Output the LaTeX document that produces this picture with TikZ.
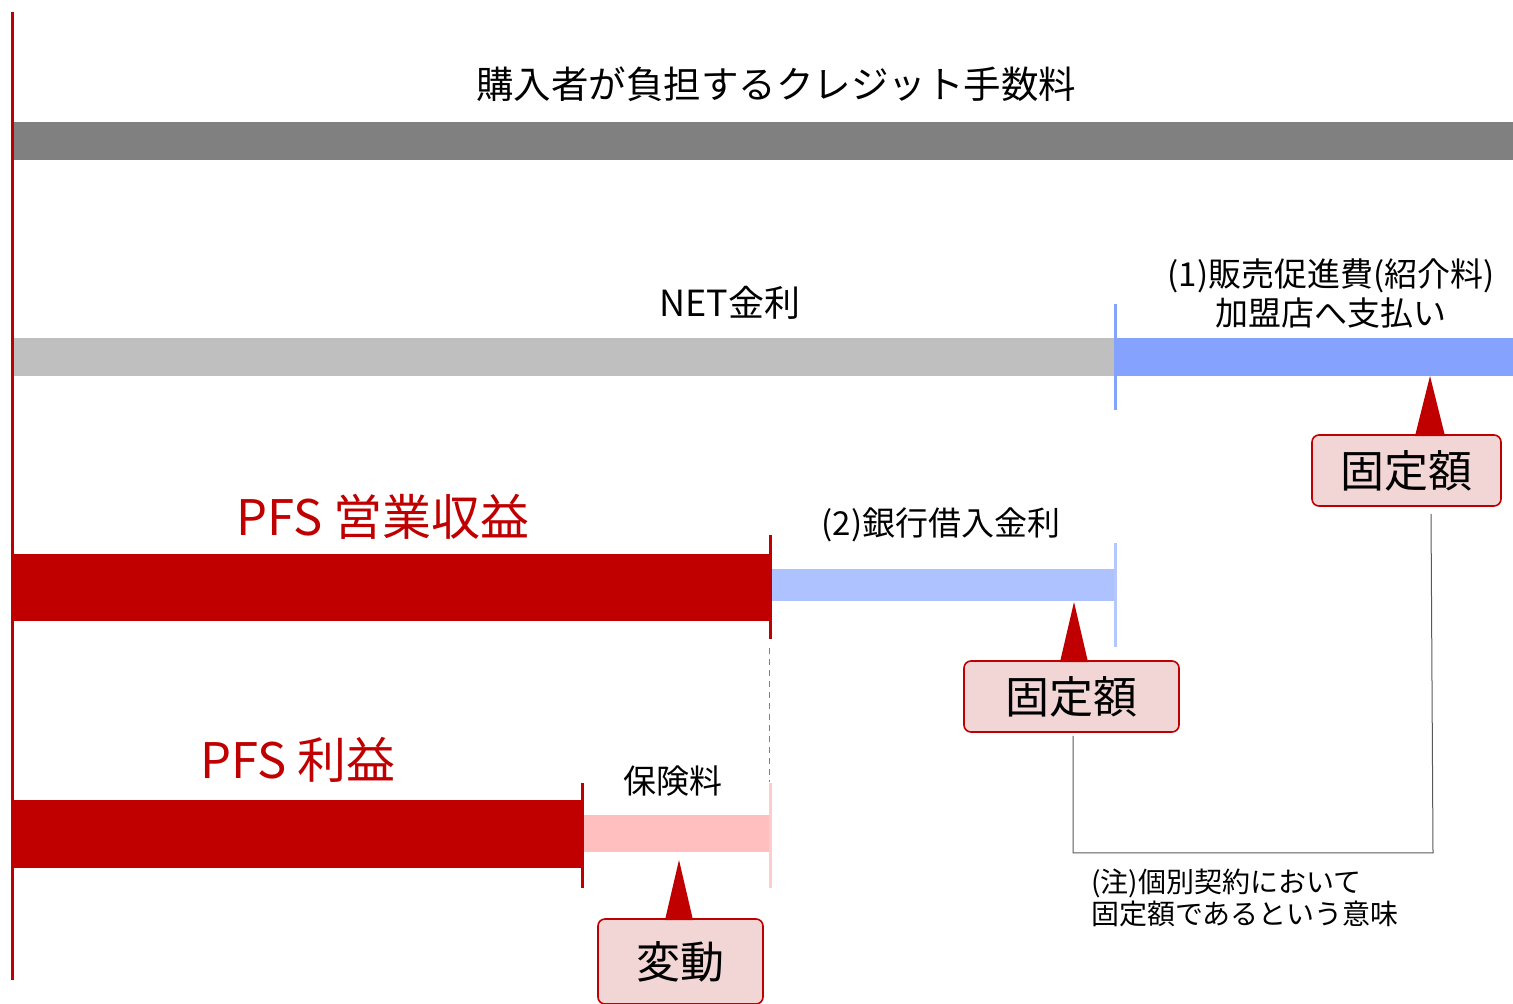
\documentclass[tikz,border=0pt]{standalone}
\usepackage{fontspec}
\setmainfont{Noto Sans CJK JP}
\definecolor{pfsred}{HTML}{C00000}
\definecolor{darkbar}{HTML}{808080}
\definecolor{lightbar}{HTML}{BFBFBF}
\definecolor{blueA}{HTML}{86A2FF}
\definecolor{blueB}{HTML}{ADC2FF}
\definecolor{blueTick}{HTML}{B4C7FF}
\definecolor{pinkbar}{HTML}{FFBFBF}
\definecolor{pinkTick}{HTML}{FFCCCC}
\definecolor{boxfill}{HTML}{F2D5D5}
\definecolor{bracketgray}{HTML}{595959}
\tikzset{
  txt/.style={inner sep=0pt, text=black},
  redtxt/.style={inner sep=0pt, text=pfsred, font=\fontsize{49}{54}\selectfont},
  midtxt/.style={inner sep=0pt, text=black, font=\fontsize{33}{39}\selectfont, align=center},
  callbox/.style={draw=pfsred, fill=boxfill, line width=1.6pt, rounded corners=7pt,
    inner sep=0pt, font=\fontsize{44}{48}\selectfont, text=black},
  bracket/.style={draw=bracketgray, line width=1pt}
}
\begin{document}
\begin{tikzpicture}[x=1pt,y=-1pt]
\useasboundingbox (0,0) rectangle (1513,1004);
% left axis
\fill[pfsred] (10.5,12) rectangle (13.5,980);
% top bar
\fill[darkbar] (14,122) rectangle (1513,160);
\node[txt, font=\fontsize{37.5}{42}\selectfont] (title) at (776,84) {購入者が負担するクレジット手数料};
% NET bar
\fill[lightbar] (14,338) rectangle (1115,376);
\fill[blueA] (1115,338) rectangle (1513,376);
\fill[blueA] (1113.5,304) rectangle (1116.5,410);
\node[txt, font=\fontsize{36}{40}\selectfont] (net) at (730,303) {NET金利};
\node[midtxt] (promo) at (1331,293) {(1)販売促進費(紹介料)\\加盟店へ支払い};
% callout 1
\node[callbox, minimum width=189pt, minimum height=71pt] (box1) at (1406.5,470.5) {固定額};
\fill[pfsred] (1415,436) -- (1430,376) -- (1445,436) -- cycle;
% PFS operating revenue
\node[redtxt] (rev) at (383,517) {PFS 営業収益};
\fill[pfsred] (14,554) rectangle (770,621);
\fill[pfsred] (769,535) rectangle (772,639);
\fill[blueB] (772,569) rectangle (1115,601);
\fill[blueTick] (1113.5,543) rectangle (1116.5,647);
\node[midtxt] (bank) at (941,525) {(2)銀行借入金利};
% callout 2
\node[callbox, minimum width=215pt, minimum height=71pt] (box2) at (1071.5,696.5) {固定額};
\fill[pfsred] (1060,662) -- (1074,602) -- (1088,662) -- cycle;
% dashed guide
\draw[darkbar, line width=1.5pt, dash pattern=on 6pt off 5pt] (769.5,648) -- (769.5,782);
% PFS profit
\node[redtxt] (prof) at (298,760) {PFS 利益};
\fill[pfsred] (14,800) rectangle (581,868);
\fill[pfsred] (580.5,783) rectangle (583.5,888);
\fill[pinkbar] (584,815) rectangle (770,852);
\fill[pinkTick] (768.5,783) rectangle (771.5,888);
\node[midtxt] (ins) at (673,781) {保険料};
% callout 3
\node[callbox, minimum width=165pt, minimum height=85pt] (box3) at (680.5,961.5) {変動};
\fill[pfsred] (665,920) -- (679,860) -- (693,920) -- cycle;
% bracket connecting fixed-amount boxes
\draw[bracket] ([shift={(1.5,3)}]box2.south) |- ([shift={(26.5,346)}]box1.south) -- ([shift={(24.5,7)}]box1.south);
\node[txt, font=\fontsize{28}{32}\selectfont, align=left, anchor=west] (note) at (1091,898) {(注)個別契約において\\固定額であるという意味};
\end{tikzpicture}
\end{document}
